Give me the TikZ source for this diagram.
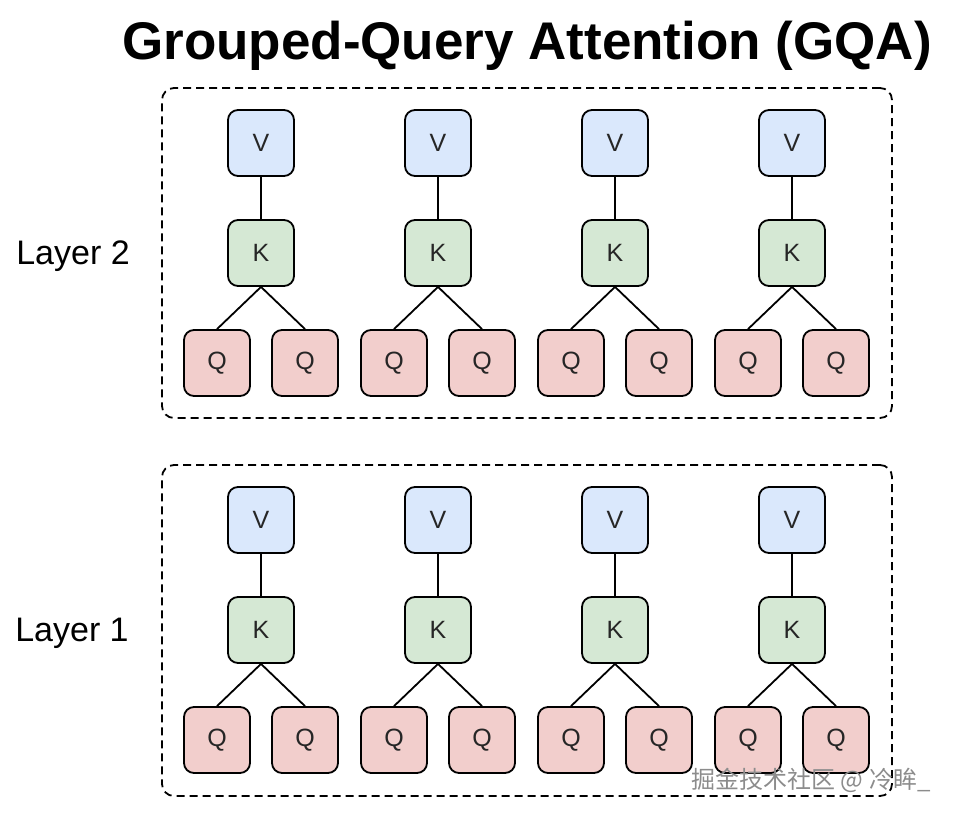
\documentclass[tikz,border=0pt]{standalone}
\usepackage{fontspec}
\setmainfont{Liberation Sans}
\newfontfamily\cjk{Noto Sans CJK SC}
\usepackage{tikz}
\usetikzlibrary{positioning}

\begin{document}
\begin{tikzpicture}[x=1pt,y=-1pt,on grid,
    head/.style={draw,line width=1.8pt,rounded corners=10pt,minimum size=66pt,inner sep=0pt,text=black!85,font=\fontsize{25}{25}\selectfont},
    vbox/.style={head,fill={rgb,255:red,218;green,232;blue,252}},
    kbox/.style={head,fill={rgb,255:red,213;green,232;blue,212}},
    qbox/.style={head,fill={rgb,255:red,242;green,206;blue,204}},
    layerbox/.style={draw,dash pattern=on 8pt off 5pt,line width=1.8pt,rounded corners=12pt,minimum width=730pt,inner sep=0pt},
    link/.style={line width=1.8pt}]
    \useasboundingbox (0,0) rectangle (960,816);

    \node[font=\bfseries\fontsize{53}{53}\selectfont] (title) at (527,46) {Grouped-Query Attention (GQA)};

    \node[layerbox, minimum height=330pt] (frame2) at (527,253) {};
    \node[layerbox, minimum height=331pt] (frame1) at (527,630.5) {};
    \node[font=\fontsize{34}{34}\selectfont] (label2) at (73,256) {Layer 2};
    \node[font=\fontsize{34}{34}\selectfont] (label1) at (72,633) {Layer 1};

    \foreach \l/\y in {2/143,1/520} {
        \foreach \g/\x in {1/261,2/438,3/615,4/792} {
            \node[vbox] (v\l\g) at (\x,\y) {V};
            \node[kbox] (k\l\g) [below=110pt of v\l\g] {K};
            \node[qbox] (qa\l\g) [below left=110pt and 44pt of k\l\g] {Q};
            \node[qbox] (qb\l\g) [below right=110pt and 44pt of k\l\g] {Q};

            \path[link]
            (v\l\g) edge (k\l\g)
            (k\l\g.south) edge (qa\l\g.north)
                          edge (qb\l\g.north);
        }
    }

    \node[text=black!45,font=\cjk\fontsize{24}{24}\selectfont] (mark) at (811,780) {掘金技术社区 @ 冷眸\_};
\end{tikzpicture}
\end{document}
